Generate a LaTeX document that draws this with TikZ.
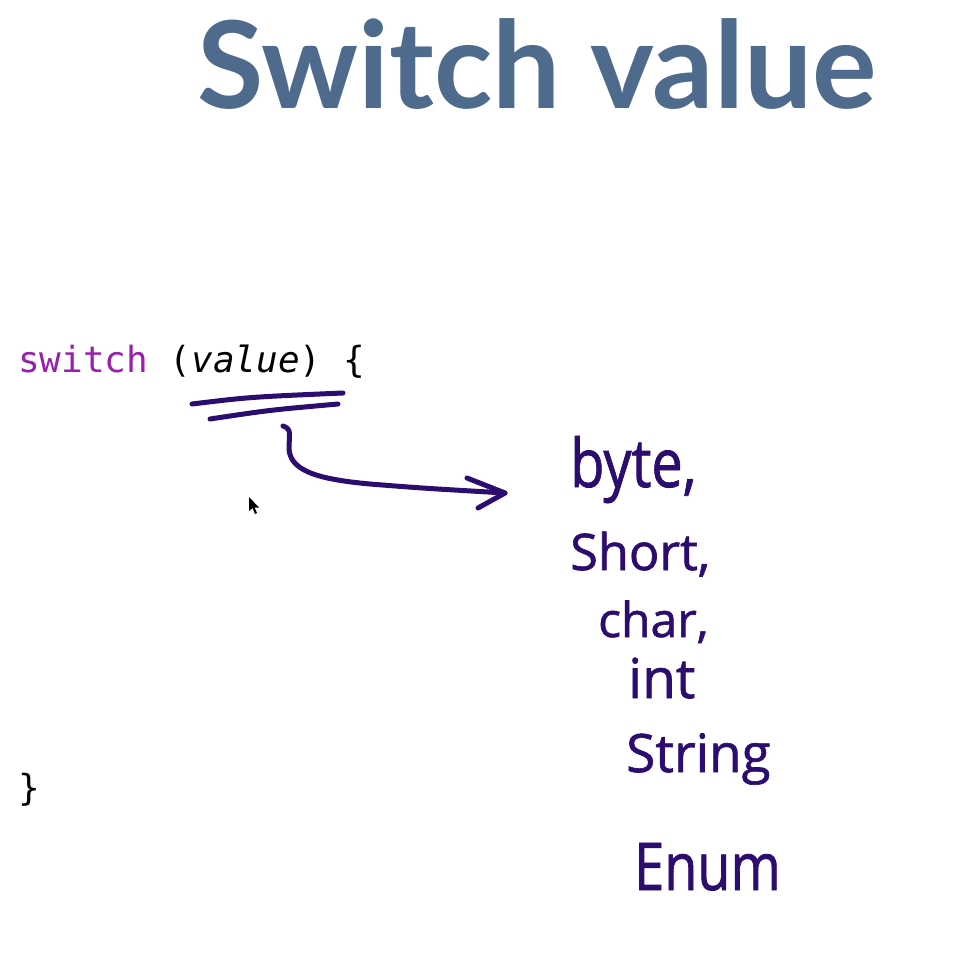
\documentclass[tikz,border=0pt]{standalone}
\usepackage{fontspec}
\setmonofont{DejaVu Sans Mono}[ItalicFont={DejaVu Sans Mono Oblique}]
\newfontfamily\titlefont{Lato}
\newfontfamily\handfont{Open Sans}[FakeBold=1.2]
\definecolor{titleblue}{RGB}{78,106,140}
\definecolor{keyword}{RGB}{152,32,172}
\definecolor{ink}{RGB}{44,12,110}
\tikzset{
  title/.style={anchor=base west, inner sep=0pt, text=titleblue,
    font=\titlefont\bfseries\fontsize{121}{140}\selectfont},
  code/.style={anchor=base west, inner sep=0pt, text=black,
    font=\ttfamily\fontsize{36}{42}\selectfont},
  hand/.style={anchor=base west, inner sep=0pt, text=ink},
  pen/.style={draw=ink, line width=5pt, line cap=round, line join=round}
}
\begin{document}
\begin{tikzpicture}[x=1pt, y=-1pt]
  \useasboundingbox[fill=white] (0,0) rectangle (965,971);

  % heading
  \node[title] (heading) at (197,109) {Switch value};

  % code lines
  \node[code] (header) at (18,372) {{\color{keyword}switch} (\textit{value}) \{};
  \node[code] (closing) at (18,800) {\}};

  % hand-drawn underline below the switch value
  \draw[pen] (192,404) .. controls (250,397) .. (343,393);
  \draw[pen] (210,419) .. controls (270,410) .. (338,404);

  % hand-drawn arrow towards the list of types
  \coordinate (arrowstart) at (283,426);
  \coordinate (arrowtip) at (505,493);
  \draw[pen] (arrowstart) .. controls (290,429) .. (289,446)
    .. controls (288,470) and (315,479) .. (370,484)
    .. controls (420,488) .. (arrowtip);
  \draw[pen] (467,478) -- (arrowtip) -- (478,508);

  % handwritten list of allowed types
  \node[hand, font=\handfont\fontsize{56}{60}\selectfont] (tbyte) at (570,487) {\scalebox{1}[1.2]{byte,}};
  \node[hand, font=\handfont\fontsize{50.5}{60}\selectfont] (tshort) at (570,570) {Short,};
  \node[hand, font=\handfont\fontsize{48}{60}\selectfont] (tchar) at (598,637) {char,};
  \node[hand, font=\handfont\fontsize{55}{60}\selectfont] (tint) at (628,698) {int};
  \node[hand, font=\handfont\fontsize{53}{60}\selectfont] (tstring) at (626,772) {String};
  \node[hand, font=\handfont\fontsize{54}{60}\selectfont] (tenum) at (634,890) {\scalebox{1}[1.22]{Enum}};

  % mouse pointer
  \fill[black] (249,497) -- (249,511) -- (252.5,508) -- (255,514) -- (257,513)
    -- (254.5,507.5) -- (259,507.5) -- cycle;
\end{tikzpicture}
\end{document}
